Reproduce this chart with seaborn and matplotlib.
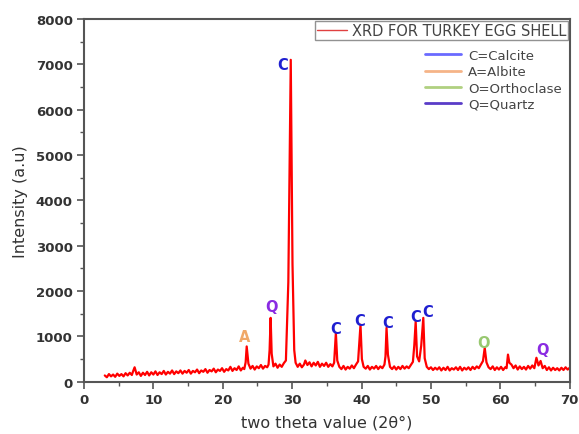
import matplotlib
matplotlib.use("Agg")
import matplotlib.pyplot as plt
from matplotlib.lines import Line2D
from matplotlib.ticker import MultipleLocator
import seaborn as sns
import pandas as pd

# (two theta, intensity) pairs, in four angular ranges
scan_low = [(3.0, 140), (3.3, 100), (3.6, 170), (3.9, 120), (4.2, 160), (4.5, 110), (4.8, 180), (5.1, 130),
            (5.4, 170), (5.7, 120), (6.0, 190), (6.3, 140), (6.6, 200), (6.9, 150), (7.1, 240), (7.3, 320),
            (7.6, 160), (7.9, 210), (8.2, 130), (8.5, 200), (8.8, 150), (9.1, 220), (9.4, 140), (9.7, 210),
            (10.0, 160), (10.3, 230), (10.6, 150), (10.9, 210), (11.2, 170), (11.5, 240), (11.8, 160),
            (12.1, 220), (12.4, 180), (12.7, 250), (13.0, 170), (13.3, 230), (13.6, 190), (13.9, 250),
            (14.2, 180), (14.5, 240), (14.8, 200), (15.1, 260), (15.4, 180), (15.7, 240), (16.0, 210),
            (16.3, 270), (16.6, 190), (16.9, 250), (17.2, 220), (17.5, 280), (17.8, 200), (18.1, 260),
            (18.4, 230), (18.7, 290), (19.0, 210), (19.3, 270), (19.6, 240), (19.9, 300), (20.2, 220),
            (20.5, 280), (20.8, 250), (21.1, 330), (21.4, 240), (21.7, 300), (22.0, 260), (22.3, 340),
            (22.6, 250), (22.9, 310)]
scan_mid = [(23.1, 280), (23.3, 430), (23.45, 780), (23.7, 400), (24.0, 290), (24.3, 350), (24.6, 270),
            (24.9, 340), (25.2, 300), (25.5, 370), (25.8, 290), (26.1, 350), (26.4, 320), (26.6, 380),
            (26.75, 700), (26.9, 1410), (27.05, 620), (27.3, 340), (27.6, 400), (27.9, 310), (28.2, 380),
            (28.5, 330), (28.8, 410), (29.1, 470), (29.45, 2200), (29.8, 7100), (30.05, 2600), (30.3, 700),
            (30.5, 420), (30.8, 330), (31.1, 400), (31.4, 320), (31.7, 380), (31.9, 470), (32.2, 370),
            (32.5, 430), (32.8, 340), (33.1, 420), (33.4, 360), (33.7, 440), (34.0, 330), (34.3, 400),
            (34.6, 350), (34.9, 420), (35.2, 330), (35.5, 390), (35.8, 340), (36.05, 420)]
scan_calcite = [(36.3, 1080), (36.5, 470), (36.8, 330), (37.1, 280), (37.4, 350), (37.7, 270), (38.0, 330),
                (38.3, 290), (38.6, 360), (38.9, 300), (39.2, 380), (39.5, 450), (39.85, 1260), (40.05, 500),
                (40.3, 330), (40.6, 290), (40.9, 350), (41.2, 270), (41.5, 330), (41.8, 290), (42.1, 350),
                (42.4, 280), (42.7, 340), (43.0, 300), (43.3, 380), (43.45, 560), (43.6, 1190), (43.8, 600),
                (44.1, 330), (44.4, 280), (44.7, 340), (45.0, 270), (45.3, 330), (45.6, 280), (45.9, 350),
                (46.2, 290), (46.5, 340), (46.8, 300), (47.1, 370), (47.4, 440), (47.6, 800), (47.8, 1330),
                (48.0, 560), (48.3, 450), (48.6, 800), (48.9, 1410), (49.1, 520), (49.4, 330), (49.7, 280),
                (50.0, 320)]
scan_high = [(50.3, 260), (50.6, 310), (50.9, 270), (51.2, 320), (51.5, 250), (51.8, 310), (52.1, 260),
             (52.4, 330), (52.7, 250), (53.0, 300), (53.3, 270), (53.6, 320), (53.9, 260), (54.2, 330),
             (54.5, 250), (54.8, 310), (55.1, 270), (55.4, 320), (55.7, 260), (56.0, 330), (56.3, 280),
             (56.6, 340), (56.9, 300), (57.2, 380), (57.5, 460), (57.75, 750), (58.0, 430), (58.3, 320),
             (58.6, 280), (58.9, 340), (59.2, 260), (59.5, 320), (59.8, 270), (60.1, 330), (60.4, 260),
             (60.7, 320), (60.9, 300), (61.1, 600), (61.3, 420), (61.6, 380), (61.9, 300), (62.2, 360),
             (62.5, 270), (62.8, 340), (63.1, 280), (63.4, 330), (63.7, 270), (64.0, 350), (64.3, 290),
             (64.6, 360), (64.9, 300), (65.2, 530), (65.5, 360), (65.8, 460), (66.1, 300), (66.4, 350),
             (66.7, 260), (67.0, 320), (67.3, 250), (67.6, 310), (67.9, 260), (68.2, 300), (68.5, 250),
             (68.8, 310), (69.1, 260), (69.4, 320), (69.7, 270), (70.0, 310)]

peak_labels = ["C", "Q", "A", "C", "C", "C", "C", "C", "O", "Q"]
label_x = [28.6, 27.0, 23.2, 36.3, 39.75, 43.7, 47.8, 49.5, 57.6, 66.1]
label_y = [7000, 1665, 995, 1180, 1355, 1310, 1445, 1555, 870, 710]
label_colors = ["#1f1fd0", "#8a2be2", "#f0a868", "#1f1fd0", "#1f1fd0", "#1f1fd0", "#1f1fd0",
                "#1f1fd0", "#98c870", "#8a2be2"]

phase_names = ["C=Calcite", "A=Albite", "O=Orthoclase", "Q=Quartz"]
phase_colors = ["#6a6aff", "#f5b488", "#b0d080", "#5a3cc8"]

scan = scan_low + scan_mid + scan_calcite + scan_high
df = pd.DataFrame(scan, columns=["two_theta", "intensity"])

sns.set_theme(style="white")
plt.rcParams["font.family"] = ["DejaVu Sans"]

fig = plt.figure(figsize=(5.79, 4.35), dpi=100)
ax = fig.add_axes([0.145, 0.12, 0.839, 0.834])
sns.lineplot(data=df, x="two_theta", y="intensity", ax=ax, color="#ff0000", lw=1.6, sort=False)

ax.set_xlim(0, 70)
ax.set_ylim(0, 8000)
ax.xaxis.set_major_locator(MultipleLocator(10))
ax.xaxis.set_minor_locator(MultipleLocator(5))
ax.yaxis.set_major_locator(MultipleLocator(1000))
ax.yaxis.set_minor_locator(MultipleLocator(500))
ax.tick_params(axis="both", which="major", direction="out", length=5, width=1.2, color="#555555",
               labelsize=9.5, labelcolor="#333333", bottom=True, left=True, pad=3)
ax.tick_params(axis="both", which="minor", direction="out", length=3, width=1.0, color="#555555",
               bottom=True, left=True)
for lbl in ax.get_xticklabels() + ax.get_yticklabels():
    lbl.set_fontweight("bold")
for sp in ax.spines.values():
    sp.set_color("#555555")
    sp.set_linewidth(1.5)

ax.set_xlabel("two theta value (2θ°)", fontsize=11.5, color="#333333", labelpad=6)
ax.set_ylabel("Intensity (a.u)", fontsize=11.5, color="#333333", labelpad=6)

for t, x, y, c in zip(peak_labels, label_x, label_y, label_colors):
    ax.text(x, y, t, color=c, fontsize=10.5, fontweight="bold", ha="center", va="center")

h1 = [Line2D([], [], color="#e04040", lw=1)]
leg1 = ax.legend(h1, ["XRD FOR TURKEY EGG SHELL"], loc="upper right", bbox_to_anchor=(0.997, 0.995),
                 frameon=True, fancybox=False, edgecolor="#777777", fontsize=10.5, handlelength=2.0,
                 handletextpad=0.35, borderpad=0.15, borderaxespad=0.0)
leg1.get_frame().set_linewidth(1.0)
for t in leg1.get_texts():
    t.set_color("#444444")
ax.add_artist(leg1)

h2 = [Line2D([], [], color=c, lw=2) for c in phase_colors]
leg2 = ax.legend(h2, phase_names, loc="upper right", bbox_to_anchor=(1.0, 0.94), frameon=False,
                 fontsize=9.5, handlelength=2.8, handletextpad=0.5, labelspacing=0.26,
                 borderaxespad=0.2)
for t in leg2.get_texts():
    t.set_color("#444444")

fig.savefig("out.png", dpi=100)
